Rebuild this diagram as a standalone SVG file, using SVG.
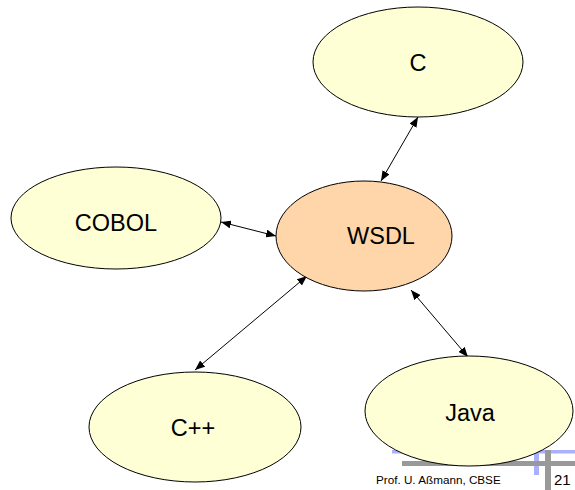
<svg xmlns="http://www.w3.org/2000/svg" width="575" height="490" viewBox="0 0 575 490">
<defs>
<style>
.lang{fill:#ffffd5;stroke:#000;stroke-width:1}
.hub{fill:#ffd5aa;stroke:#000;stroke-width:1}
.lbl{font-family:"Liberation Sans",Arial,sans-serif;font-size:23.5px;fill:#000;text-anchor:middle}
.conn{stroke:#000;stroke-width:1;fill:none;marker-start:url(#ah);marker-end:url(#ah)}
</style>
<marker id="ah" viewBox="0 0 10 8" refX="10" refY="4" markerWidth="10" markerHeight="8" markerUnits="userSpaceOnUse" orient="auto-start-reverse">
<path d="M0,0 L10,4 L0,8 z" fill="#000"/>
</marker>
</defs>
<rect width="575" height="490" fill="#fff"/>
<g id="footer">
<rect x="392" y="450" width="183" height="3.5" fill="#aab0ff"/>
<rect x="534" y="450" width="5" height="25" fill="#aab0ff"/>
<rect x="402" y="461" width="173" height="5" fill="#999"/>
<rect x="545" y="450" width="6" height="40" fill="#999"/>
<text x="376" y="484" font-family="'Liberation Sans',Arial,sans-serif" font-size="11.7" fill="#000">Prof. U. Aßmann, CBSE</text>
<text x="554" y="485" font-family="'Liberation Sans',Arial,sans-serif" font-size="15" fill="#000">21</text>
</g>
<g id="connectors">
<line class="conn" x1="418" y1="117" x2="381" y2="181"/>
<line class="conn" x1="221" y1="222" x2="276" y2="236"/>
<line class="conn" x1="307" y1="276" x2="195" y2="370"/>
<line class="conn" x1="411" y1="290" x2="468" y2="357"/>
</g>
<g id="node-c">
<ellipse class="lang" cx="418" cy="62" rx="105" ry="55"/>
<text class="lbl" x="418" y="71">C</text>
</g>
<g id="node-cobol">
<ellipse class="lang" cx="116" cy="218" rx="105" ry="51"/>
<text class="lbl" x="116" y="231">COBOL</text>
</g>
<g id="node-wsdl">
<ellipse class="hub" cx="364" cy="236" rx="88" ry="55"/>
<text class="lbl" x="381" y="244">WSDL</text>
</g>
<g id="node-cpp">
<ellipse class="lang" cx="195" cy="427" rx="106" ry="55"/>
<text class="lbl" x="193" y="436">C++</text>
</g>
<g id="node-java">
<ellipse class="lang" cx="469" cy="411" rx="104" ry="55"/>
<text class="lbl" x="470" y="421">Java</text>
</g>
</svg>
